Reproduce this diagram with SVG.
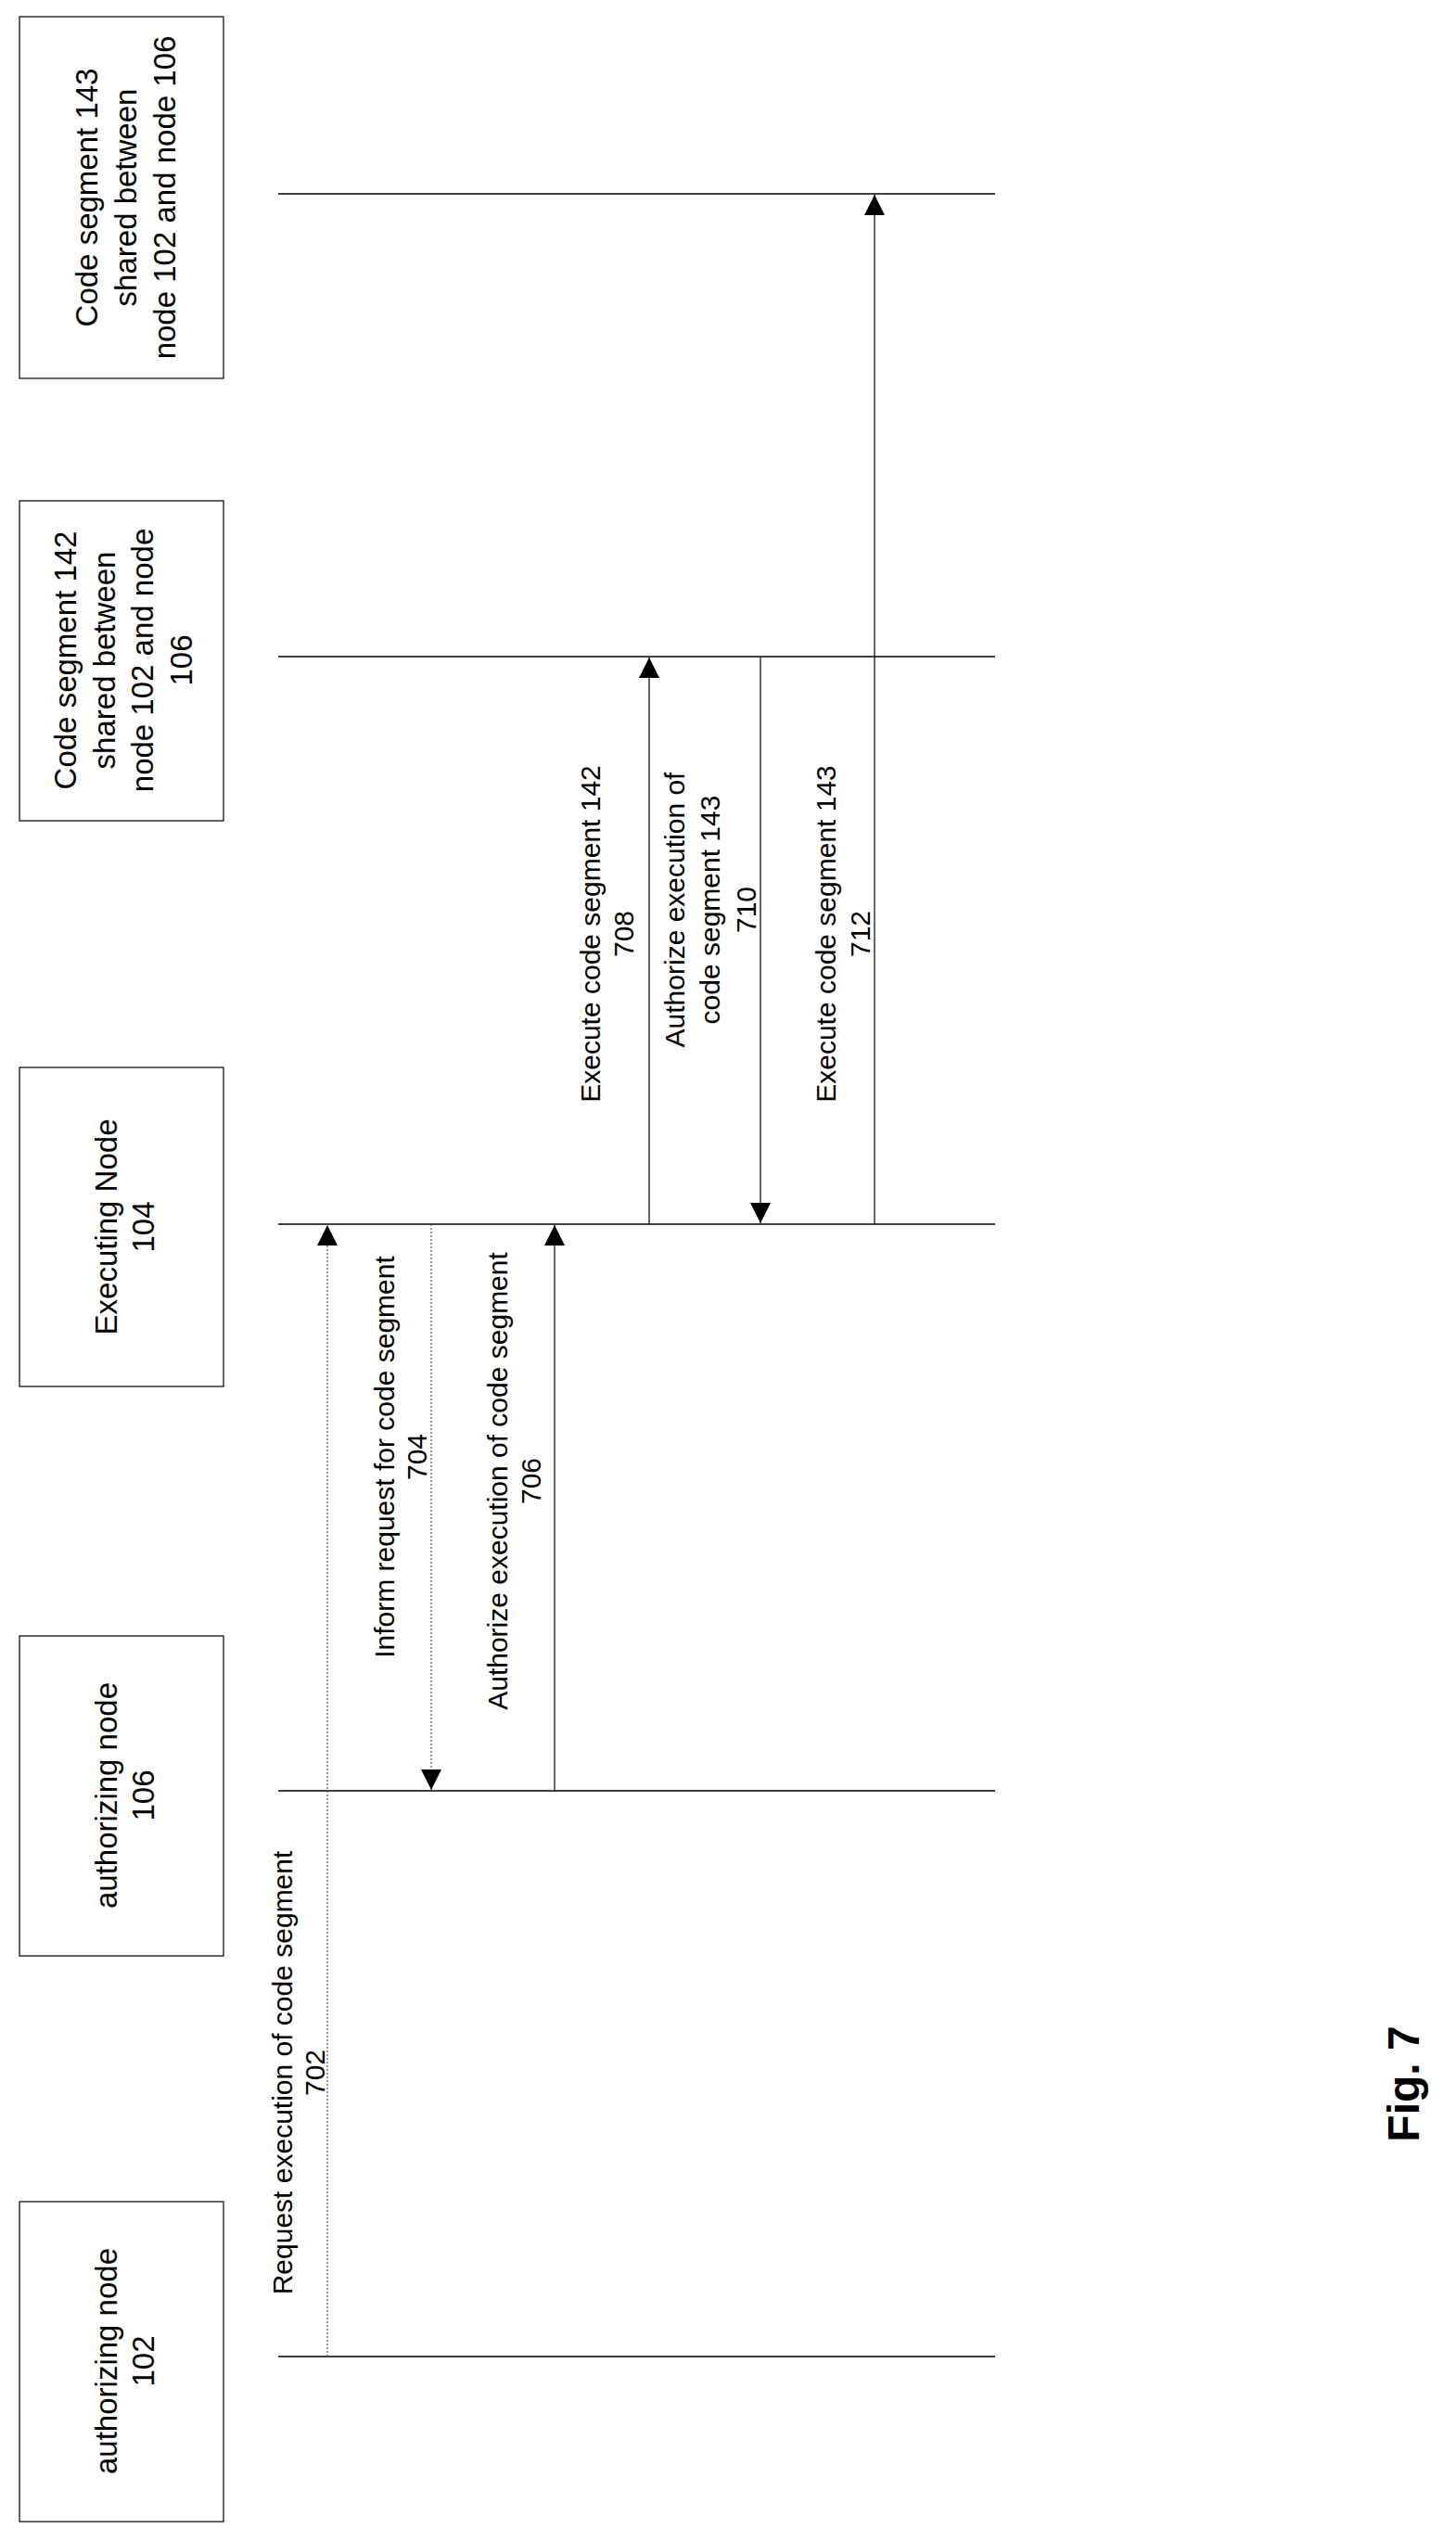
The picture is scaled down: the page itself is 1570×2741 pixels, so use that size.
<svg xmlns="http://www.w3.org/2000/svg" width="1570" height="2741" viewBox="0 0 1570 2741">
<style>
.box{fill:#fff;stroke:#000;stroke-width:1.2}
.bt{font-family:"Liberation Sans",Arial,sans-serif;font-size:33px;text-anchor:middle;fill:#000}
.lt{font-family:"Liberation Sans",Arial,sans-serif;font-size:30px;text-anchor:middle;fill:#000}
.life{stroke:#000;stroke-width:1.5}
.sol{stroke:#000;stroke-width:1.2;fill:none}
.dot{stroke:#555;stroke-width:1.2;stroke-dasharray:2 2;fill:none}
</style>
<defs>
<marker id="ah" viewBox="0 0 10 10" refX="10" refY="5" markerWidth="22" markerHeight="22" markerUnits="userSpaceOnUse" orient="auto"><path d="M0,0 L10,5 L0,10 z" fill="#000"/></marker>
</defs>
<rect width="1570" height="2741" fill="#fff"/>
<g id="node143"><rect class="box" x="21" y="18" width="220" height="390"/>
<text class="bt" transform="translate(0,213) rotate(-90)"><tspan x="0" y="105">Code segment 143</tspan><tspan x="0" y="147">shared between</tspan><tspan x="0" y="189">node 102 and node 106</tspan></text></g>
<g id="node142"><rect class="box" x="21" y="540" width="220" height="345"/>
<text class="bt" transform="translate(0,712) rotate(-90)"><tspan x="0" y="82">Code segment 142</tspan><tspan x="0" y="124">shared between</tspan><tspan x="0" y="165">node 102 and node</tspan><tspan x="0" y="207">106</tspan></text></g>
<g id="node104"><rect class="box" x="21" y="1151" width="220" height="344"/>
<text class="bt" transform="translate(0,1323) rotate(-90)"><tspan x="0" y="126">Executing Node</tspan><tspan x="0" y="166">104</tspan></text></g>
<g id="node106"><rect class="box" x="21" y="1764" width="220" height="345"/>
<text class="bt" transform="translate(0,1936) rotate(-90)"><tspan x="0" y="126">authorizing node</tspan><tspan x="0" y="166">106</tspan></text></g>
<g id="node102"><rect class="box" x="21" y="2374" width="220" height="345"/>
<text class="bt" transform="translate(0,2546) rotate(-90)"><tspan x="0" y="126">authorizing node</tspan><tspan x="0" y="166">102</tspan></text></g>
<g id="lifelines">
<line class="life" x1="300" y1="209" x2="1073" y2="209"/>
<line class="life" x1="300" y1="708" x2="1073" y2="708"/>
<line class="life" x1="300" y1="1320" x2="1073" y2="1320"/>
<line class="life" x1="300" y1="1931" x2="1073" y2="1931"/>
<line class="life" x1="300" y1="2541" x2="1073" y2="2541"/>
</g>
<g id="connectors">
<line class="dot" x1="353" y1="2541" x2="353" y2="1321" marker-end="url(#ah)"/>
<line class="dot" x1="465" y1="1320" x2="465" y2="1930" marker-end="url(#ah)"/>
<line class="sol" x1="598" y1="1931" x2="598" y2="1321" marker-end="url(#ah)"/>
<line class="sol" x1="700" y1="1320" x2="700" y2="709" marker-end="url(#ah)"/>
<line class="sol" x1="820" y1="708" x2="820" y2="1319" marker-end="url(#ah)"/>
<line class="sol" x1="943" y1="1320" x2="943" y2="210" marker-end="url(#ah)"/>
</g>
<g id="labels">
<text class="lt" transform="translate(0,2235) rotate(-90)"><tspan x="0" y="315">Request execution of code segment</tspan><tspan x="0" y="350">702</tspan></text>
<text class="lt" transform="translate(0,1571) rotate(-90)"><tspan x="0" y="425">Inform request for code segment</tspan><tspan x="0" y="460">704</tspan></text>
<text class="lt" transform="translate(0,1597) rotate(-90)"><tspan x="0" y="547">Authorize execution of code segment</tspan><tspan x="0" y="583">706</tspan></text>
<text class="lt" transform="translate(0,1007) rotate(-90)"><tspan x="0" y="647">Execute code segment 142</tspan><tspan x="0" y="683">708</tspan></text>
<text class="lt" transform="translate(0,981) rotate(-90)"><tspan x="0" y="738">Authorize execution of</tspan><tspan x="0" y="776">code segment 143</tspan><tspan x="0" y="815">710</tspan></text>
<text class="lt" transform="translate(0,1007) rotate(-90)"><tspan x="0" y="901">Execute code segment 143</tspan><tspan x="0" y="938">712</tspan></text>
<text transform="translate(1530,2247) rotate(-90)" font-family="Liberation Sans,Arial,sans-serif" font-size="48" font-weight="bold" text-anchor="middle">Fig. 7</text>
</g>
</svg>
